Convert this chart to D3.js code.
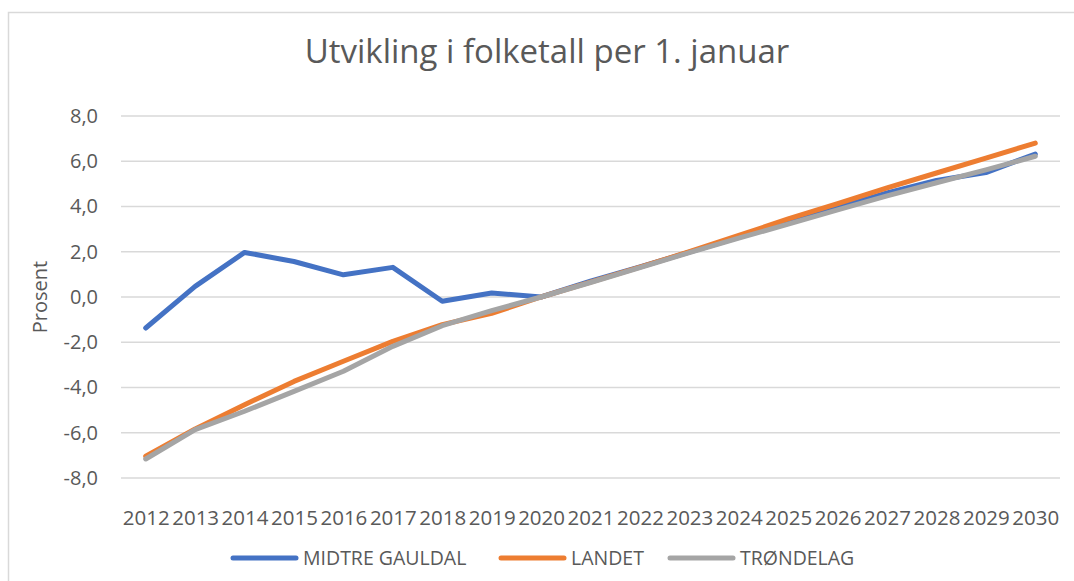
<!DOCTYPE html>
<html>
<head>
<meta charset="utf-8">
<script src="https://cdn.jsdelivr.net/npm/d3@7"></script>
<style>
  body { margin: 0; background: #fff; }
  svg { display: block; font-family: "Open Sans", sans-serif; }
</style>
</head>
<body>
<div id="chart"></div>
<script>
// data
var years = ["2012","2013","2014","2015","2016","2017","2018","2019","2020","2021",
             "2022","2023","2024","2025","2026","2027","2028","2029","2030"];
var midtreGauldal = [-1.37, 0.47, 1.97, 1.57, 0.98, 1.31, -0.19, 0.18, 0.0, 0.70,
                     1.33, 1.98, 2.64, 3.30, 3.95, 4.60, 5.15, 5.50, 6.32];
var landet = [-7.04, -5.83, -4.76, -3.73, -2.84, -1.96, -1.22, -0.72, 0.0, 0.66,
              1.32, 2.00, 2.72, 3.45, 4.13, 4.82, 5.48, 6.14, 6.80];
var trondelag = [-7.16, -5.86, -5.05, -4.17, -3.28, -2.18, -1.27, -0.60, 0.0, 0.64,
                 1.30, 1.96, 2.60, 3.22, 3.85, 4.47, 5.05, 5.62, 6.22];
var seriesNames = ["MIDTRE GAULDAL", "LANDET", "TRØNDELAG"];
var yTicks = [-8, -6, -4, -2, 0, 2, 4, 6, 8];

var colors = ["#4472C4", "#ED7D31", "#A5A5A5"];
var series = [midtreGauldal, landet, trondelag];

var W = 1074, H = 581;
var margin = {top: 116, right: 14, bottom: 103, left: 121};
var width = W - margin.left - margin.right,
    height = H - margin.top - margin.bottom;

var svg = d3.select("#chart").append("svg")
    .attr("width", W).attr("height", H);

// chart border
svg.append("rect")
    .attr("x", 8.5).attr("y", 12.5)
    .attr("width", 1100).attr("height", 620)
    .attr("fill", "none").attr("stroke", "#d9d9d9").attr("stroke-width", 1.5);

// title
svg.append("text")
    .attr("x", 547).attr("y", 63)
    .attr("text-anchor", "middle")
    .attr("fill", "#595959")
    .style("font-size", "33px")
    .text("Utvikling i folketall per 1. januar");

var g = svg.append("g")
    .attr("transform", "translate(" + margin.left + "," + margin.top + ")");

var x = d3.scalePoint().domain(years).range([0, width]).padding(0.5);
var y = d3.scaleLinear().domain([-8, 8]).range([height, 0]);

// gridlines
g.append("g")
    .selectAll("line")
    .data(yTicks)
    .enter().append("line")
    .attr("x1", 0).attr("x2", width)
    .attr("y1", function(d) { return y(d); })
    .attr("y2", function(d) { return y(d); })
    .attr("stroke", "#d9d9d9").attr("stroke-width", 1.5);

// y axis labels
var yAxis = d3.axisLeft(y).tickValues(yTicks).tickSize(0).tickPadding(23)
    .tickFormat(function(d) { return d3.format(".1f")(d).replace(".", ",").replace("−", "-"); });
g.append("g")
    .call(yAxis)
    .call(function(a) { a.select(".domain").remove(); })
    .selectAll("text")
    .attr("fill", "#595959")
    .style("font-size", "20px")
    .style("font-family", "Open Sans, sans-serif");

// x axis labels
var xAxis = d3.axisBottom(x).tickSize(0).tickPadding(32);
g.append("g")
    .attr("transform", "translate(0," + height + ")")
    .call(xAxis)
    .call(function(a) { a.select(".domain").remove(); })
    .selectAll("text")
    .attr("fill", "#595959")
    .style("font-size", "20.5px")
    .style("font-family", "Open Sans, sans-serif");

// y axis title
svg.append("text")
    .attr("transform", "translate(47,297) rotate(-90)")
    .attr("text-anchor", "middle")
    .attr("fill", "#595959")
    .style("font-size", "20px")
    .text("Prosent");

// lines
var line = d3.line()
    .x(function(d, i) { return x(years[i]); })
    .y(function(d) { return y(d); });

g.selectAll(".series")
    .data(series)
    .enter().append("path")
    .attr("class", "series")
    .attr("d", line)
    .attr("fill", "none")
    .attr("stroke", function(d, i) { return colors[i]; })
    .attr("stroke-width", 5)
    .attr("stroke-linecap", "round")
    .attr("stroke-linejoin", "round");

// legend
var legendX = [233, 501, 670];
var legend = svg.append("g");
var item = legend.selectAll("g")
    .data(seriesNames)
    .enter().append("g")
    .attr("transform", function(d, i) { return "translate(" + legendX[i] + ",558)"; });
item.append("line")
    .attr("x1", 0).attr("x2", 63)
    .attr("stroke", function(d, i) { return colors[i]; })
    .attr("stroke-width", 5)
    .attr("stroke-linecap", "round");
item.append("text")
    .attr("x", 70).attr("y", 7)
    .attr("fill", "#595959")
    .style("font-size", "19.5px")
    .text(function(d) { return d; });
</script>
</body>
</html>
